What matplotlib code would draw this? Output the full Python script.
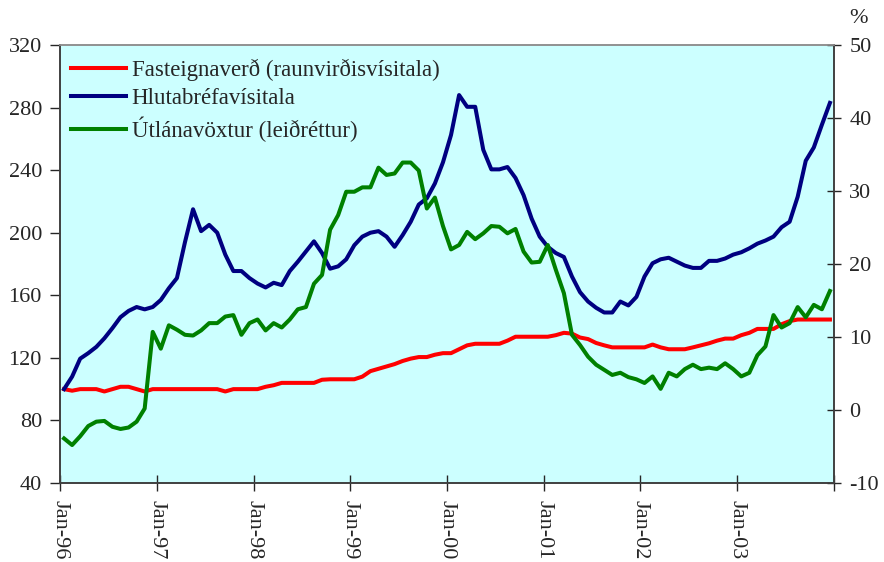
import numpy as np
import matplotlib
matplotlib.use("Agg")
import matplotlib.pyplot as plt

# ============================================================
# DATA (monthly, Jan-96 .. Dec-03)
# ============================================================

year_labels = ["Jan-96", "Jan-97", "Jan-98", "Jan-99", "Jan-00", "Jan-01", "Jan-02", "Jan-03"]

fasteignaverd = [
    100, 99, 100, 100, 100, 98.5, 100, 101.5, 101.5, 100, 98.5, 100,
    100, 100, 100, 100, 100, 100, 100, 100, 98.5, 100, 100, 100,
    100, 101.5, 102.5, 104, 104, 104, 104, 104, 106, 106.3, 106.3, 106.3,
    106.3, 108, 111.5, 113, 114.5, 116, 118, 119.5, 120.5, 120.5, 122, 123,
    123, 125.5, 128, 129, 129, 129, 129, 131, 133.5, 133.5, 133.5, 133.5,
    133.5, 134.5, 136, 135.5, 133, 132, 129.5, 128, 126.7, 126.7, 126.7, 126.7,
    126.7, 128.5, 126.7, 125.5, 125.5, 125.5, 126.7, 128, 129.3, 131, 132.3, 132.3,
    134.5, 136, 138.5, 138.5, 138.5, 141.5, 143.5, 144.5, 144.5, 144.5, 144.5, 144.5,
]

hlutabref = [
    100, 108, 119.5, 123, 127, 132.5, 139, 146, 150, 152.5, 151, 152.5,
    157, 164.5, 171, 194, 215, 201, 205, 200, 186, 175.5, 175.5, 171,
    167.5, 165, 168, 166.5, 175.5, 181.5, 188, 194.5, 187, 177, 178.5, 183,
    192, 197.5, 200, 201, 197.5, 191, 198.5, 207, 218, 222, 231.5, 245,
    262.5, 288, 280.5, 280.5, 253, 240.5, 240.5, 242, 235, 224, 209, 197.5,
    191, 187, 184.5, 172, 162, 156, 152, 149, 149, 156, 153.5, 159,
    172, 180.5, 183, 184, 181.5, 179, 177.5, 177.5, 182, 182, 183.5, 186,
    187.5, 190, 193, 195, 197.5, 203.5, 207, 223, 246, 254.5, 269, 283,
]

utlanavoxtur = [
    -3.9, -4.8, -3.6, -2.2, -1.6, -1.5, -2.3, -2.6, -2.4, -1.6, 0.2, 10.7,
    8.4, 11.6, 11.0, 10.3, 10.2, 10.9, 11.9, 11.9, 12.8, 13.0, 10.3, 11.9,
    12.4, 10.9, 11.9, 11.3, 12.4, 13.8, 14.1, 17.3, 18.5, 24.7, 26.7, 29.9,
    29.9, 30.5, 30.5, 33.2, 32.2, 32.4, 33.9, 33.9, 32.8, 27.6, 29.1, 25.2,
    22.0, 22.6, 24.4, 23.4, 24.2, 25.2, 25.1, 24.2, 24.8, 21.7, 20.2, 20.3,
    22.6, 19.2, 16.0, 10.3, 8.9, 7.3, 6.2, 5.5, 4.8, 5.1, 4.5, 4.2,
    3.7, 4.6, 2.9, 5.1, 4.6, 5.6, 6.2, 5.6, 5.8, 5.6, 6.4, 5.6,
    4.6, 5.1, 7.5, 8.7, 13.0, 11.3, 11.9, 14.1, 12.7, 14.4, 13.8, 16.3,
]

labels = [
    "Fasteignaverð (raunvirðisvísitala)",
    "Hlutabréfavísitala",
    "Útlánavöxtur (leiðréttur)",
]

# ============================================================
# STYLE
# ============================================================

plt.rcParams["font.family"] = ["Liberation Serif", "DejaVu Serif"]
plt.rcParams["axes.unicode_minus"] = False
TEXT = "#262626"
FS = 16
LW = 2.9

x = np.arange(len(fasteignaverd)) + 0.5   # points sit between tick marks

fig = plt.figure(figsize=(8.84, 5.62), dpi=100)
ax = fig.add_axes([0.0679, 0.1406, 0.8755, 0.7793])
ax.set_facecolor("#CCFFFF")
ax2 = ax.twinx()

l1, = ax.plot(x, fasteignaverd, color="#FF0000", lw=LW)
l2, = ax.plot(x, hlutabref, color="#000080", lw=LW)
l3, = ax2.plot(x, utlanavoxtur, color="#008000", lw=LW)

ax.set_xlim(0, 96)
ax.set_ylim(40, 320)
ax.set_yticks(np.arange(40, 321, 40))
ax2.set_ylim(-10, 50)
ax2.set_yticks(np.arange(-10, 51, 10))

ax.set_xticks(np.arange(0, 97, 12))
ax.set_xticklabels(year_labels + [""], rotation=-90)

ax.tick_params(axis="y", direction="out", length=7, width=1, pad=6,
               labelsize=FS, colors=TEXT)
ax.tick_params(axis="x", direction="inout", length=12, width=1, pad=6,
               labelsize=FS, colors=TEXT)
ax2.tick_params(axis="y", direction="inout", length=10, width=1, pad=6,
                labelsize=FS, colors=TEXT)

for a in (ax, ax2):
    for s in a.spines.values():
        s.set_linewidth(1.2)
        s.set_color("#404040")
    a.spines["top"].set_color("#909090")

leg = ax2.legend([l1, l2, l3], labels, loc="upper left",
                 bbox_to_anchor=(0.008, 0.978), frameon=False, fontsize=16.5,
                 handlelength=2.4, handletextpad=0.25, labelspacing=0.3,
                 borderpad=0.2, borderaxespad=0)
for t in leg.get_texts():
    t.set_color(TEXT)

fig.text(0.971, 0.967, "%", fontsize=FS, color=TEXT, ha="center", va="center")

fig.savefig("out.png", dpi=100)
